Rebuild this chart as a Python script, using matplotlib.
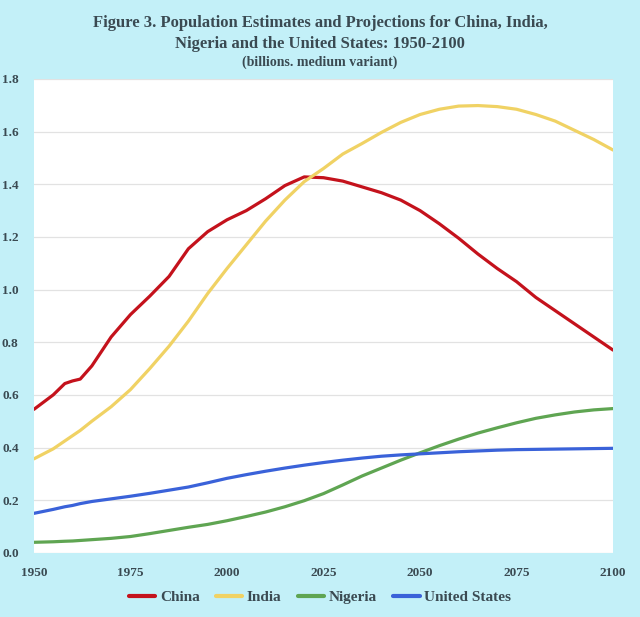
import matplotlib
matplotlib.use("Agg")
import matplotlib.pyplot as plt

years = [1950, 1955, 1958, 1960, 1962, 1965, 1970, 1975, 1980, 1985, 1990, 1995,
         2000, 2005, 2010, 2015, 2020, 2025, 2030, 2035, 2040, 2045, 2050, 2055,
         2060, 2065, 2070, 2075, 2080, 2085, 2090, 2095, 2100]

china = [0.545, 0.60, 0.643, 0.653, 0.660, 0.71, 0.82, 0.905, 0.975, 1.05, 1.155, 1.22,
         1.265, 1.30, 1.345, 1.395, 1.428, 1.425, 1.412, 1.39, 1.368, 1.34, 1.30, 1.25,
         1.195, 1.135, 1.08, 1.03, 0.97, 0.92, 0.87, 0.82, 0.77]

india = [0.357, 0.395, 0.425, 0.445, 0.465, 0.50, 0.555, 0.62, 0.70, 0.785, 0.88, 0.985,
         1.08, 1.17, 1.26, 1.34, 1.41, 1.46, 1.515, 1.555, 1.597, 1.635, 1.665, 1.685,
         1.697, 1.699, 1.695, 1.685, 1.665, 1.64, 1.605, 1.57, 1.53]

nigeria = [0.04, 0.042, 0.044, 0.045, 0.047, 0.050, 0.055, 0.062, 0.073, 0.085, 0.097, 0.108,
           0.122, 0.138, 0.155, 0.175, 0.198, 0.225, 0.258, 0.292, 0.322, 0.352, 0.380, 0.407,
           0.432, 0.455, 0.475, 0.494, 0.511, 0.524, 0.535, 0.543, 0.548]

usa = [0.15, 0.165, 0.175, 0.18, 0.187, 0.195, 0.205, 0.215, 0.226, 0.238, 0.25, 0.266,
       0.283, 0.297, 0.31, 0.322, 0.333, 0.343, 0.352, 0.360, 0.367, 0.372, 0.376, 0.38,
       0.384, 0.387, 0.390, 0.392, 0.393, 0.394, 0.395, 0.396, 0.397]

series_names = ["China", "India", "Nigeria", "United States"]
colors = ["#c4121c", "#f0d264", "#5fa552", "#3a62d9"]
xticks = [1950, 1975, 2000, 2025, 2050, 2075, 2100]
yticks = [0.0, 0.2, 0.4, 0.6, 0.8, 1.0, 1.2, 1.4, 1.6, 1.8]
ytick_labels = ["0.0", "0.2", "0.4", "0.6", "0.8", "1.0", "1.2", "1.4", "1.6", "1.8"]

serif = ["Liberation Serif", "DejaVu Serif"]
bg = "#c3f0f8"
txtc = "#3a4a52"

fig = plt.figure(figsize=(6.4, 6.17), dpi=100, facecolor=bg)
ax = fig.add_axes([0.053, 0.104, 0.905, 0.768])
ax.set_facecolor("white")

for vals, name, c in zip([china, india, nigeria, usa], series_names, colors):
    ax.plot(years, vals, color=c, lw=2.3, label=name, solid_joinstyle="round",
            solid_capstyle="round")

ax.set_xlim(1950, 2100)
ax.set_ylim(0, 1.8)
ax.set_xticks(xticks)
ax.set_xticklabels([str(x) for x in xticks], fontfamily=serif, fontweight="bold",
                   fontsize=9.5, color=txtc)
ax.set_yticks(yticks)
ax.set_yticklabels(ytick_labels, fontfamily=serif, fontweight="bold",
                   fontsize=9.5, color=txtc)
ax.tick_params(axis="x", length=0, pad=10)
ax.tick_params(axis="y", length=0, pad=11)
ax.grid(axis="y", color="#e2e2e2", lw=0.9)
ax.set_axisbelow(True)
for s in ax.spines.values():
    s.set_visible(False)

fig.text(0.5, 0.962, "Figure 3. Population Estimates and Projections for China, India,",
         ha="center", va="center", fontfamily=serif, fontweight="bold", fontsize=12, color=txtc)
fig.text(0.5, 0.928, "Nigeria and the United States: 1950-2100",
         ha="center", va="center", fontfamily=serif, fontweight="bold", fontsize=12, color=txtc)
fig.text(0.5, 0.899, "(billions. medium variant)",
         ha="center", va="center", fontfamily=serif, fontweight="bold", fontsize=10, color=txtc)

leg = fig.legend(loc="center", bbox_to_anchor=(0.5, 0.032), ncol=4, frameon=False,
                 prop={"family": serif, "weight": "bold", "size": 11},
                 handlelength=1.75, columnspacing=1.05, handletextpad=0.3)
for t in leg.get_texts():
    t.set_color(txtc)
for h in leg.get_lines():
    h.set_linewidth(3)

fig.savefig("out.png", dpi=100, facecolor=bg)
